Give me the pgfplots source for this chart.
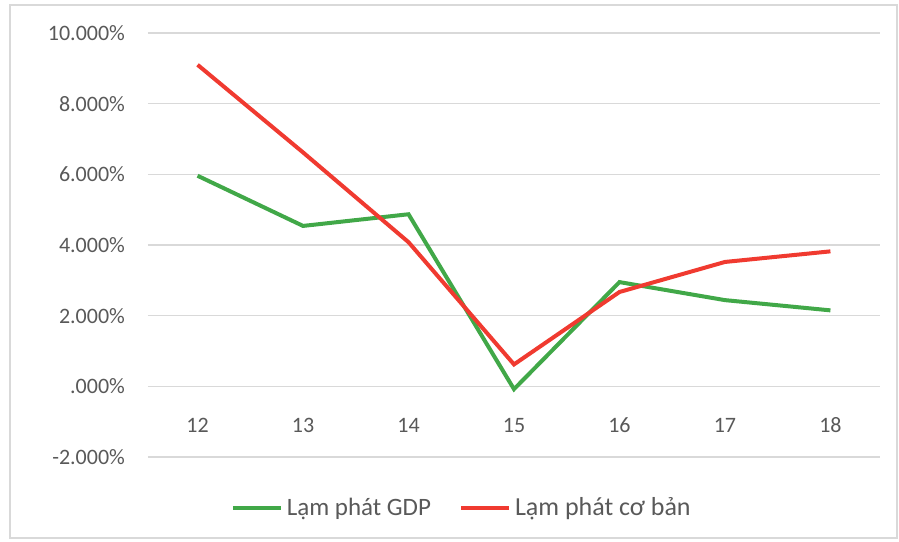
\documentclass[border=0pt]{standalone}
\usepackage{pgfplots}
\pgfplotsset{compat=1.18}
\usepackage{fontspec}
\setmainfont{Carlito}
\definecolor{gdp}{RGB}{65,168,72}
\definecolor{cb}{RGB}{240,58,48}
\definecolor{txt}{RGB}{89,89,89}
\definecolor{gridc}{RGB}{217,217,217}
\begin{document}
\begin{tikzpicture}
\path (-74pt,-42pt) rectangle (375.5pt,228.5pt);
\draw[gridc,line width=0.8pt] (-69pt,-40.5pt) rectangle (374.5pt,226pt);
\begin{axis}[
  at={(0pt,0pt)}, anchor=south west,
  scale only axis, width=366pt, height=212pt,
  xmin=11.53, xmax=18.47, ymin=-2, ymax=10,
  axis line style={draw=none},
  xtick={12,...,18}, xticklabels={12,13,14,15,16,17,18},
  ytick={-2,0,2,4,6,8,10},
  yticklabels={-2.000\%,.000\%,2.000\%,4.000\%,6.000\%,8.000\%,10.000\%},
  major tick length=0pt,
  ymajorgrids, xmajorgrids=false, grid style={draw=gridc, line width=0.8pt},
  tick label style={font=\fontsize{11}{13}\selectfont, text=txt},
  xticklabel style={anchor=center, yshift=16pt},
  yticklabel style={anchor=east, xshift=-8pt},
  legend columns=2,
  legend style={at={(0.43,-0.12)}, anchor=center, draw=none, fill=none,
    font=\fontsize{12.5}{14}\selectfont, text=txt,
    /tikz/every even column/.append style={column sep=12pt}},
  legend image code/.code={\draw[#1] (0pt,0pt)--(24pt,0pt);},
]
\addplot[gdp, line width=2pt] coordinates {(12,5.96) (13,4.54) (14,4.87) (15,-0.08) (16,2.95) (17,2.44) (18,2.15)};
\addlegendentry{Lạm phát GDP}
\addplot[cb, line width=2pt] coordinates {(12,9.10) (13,6.62) (14,4.08) (15,0.62) (16,2.67) (17,3.52) (18,3.82)};
\addlegendentry{\fontsize{13}{15}\selectfont Lạm phát cơ bản}
\end{axis}
\end{tikzpicture}
\end{document}
